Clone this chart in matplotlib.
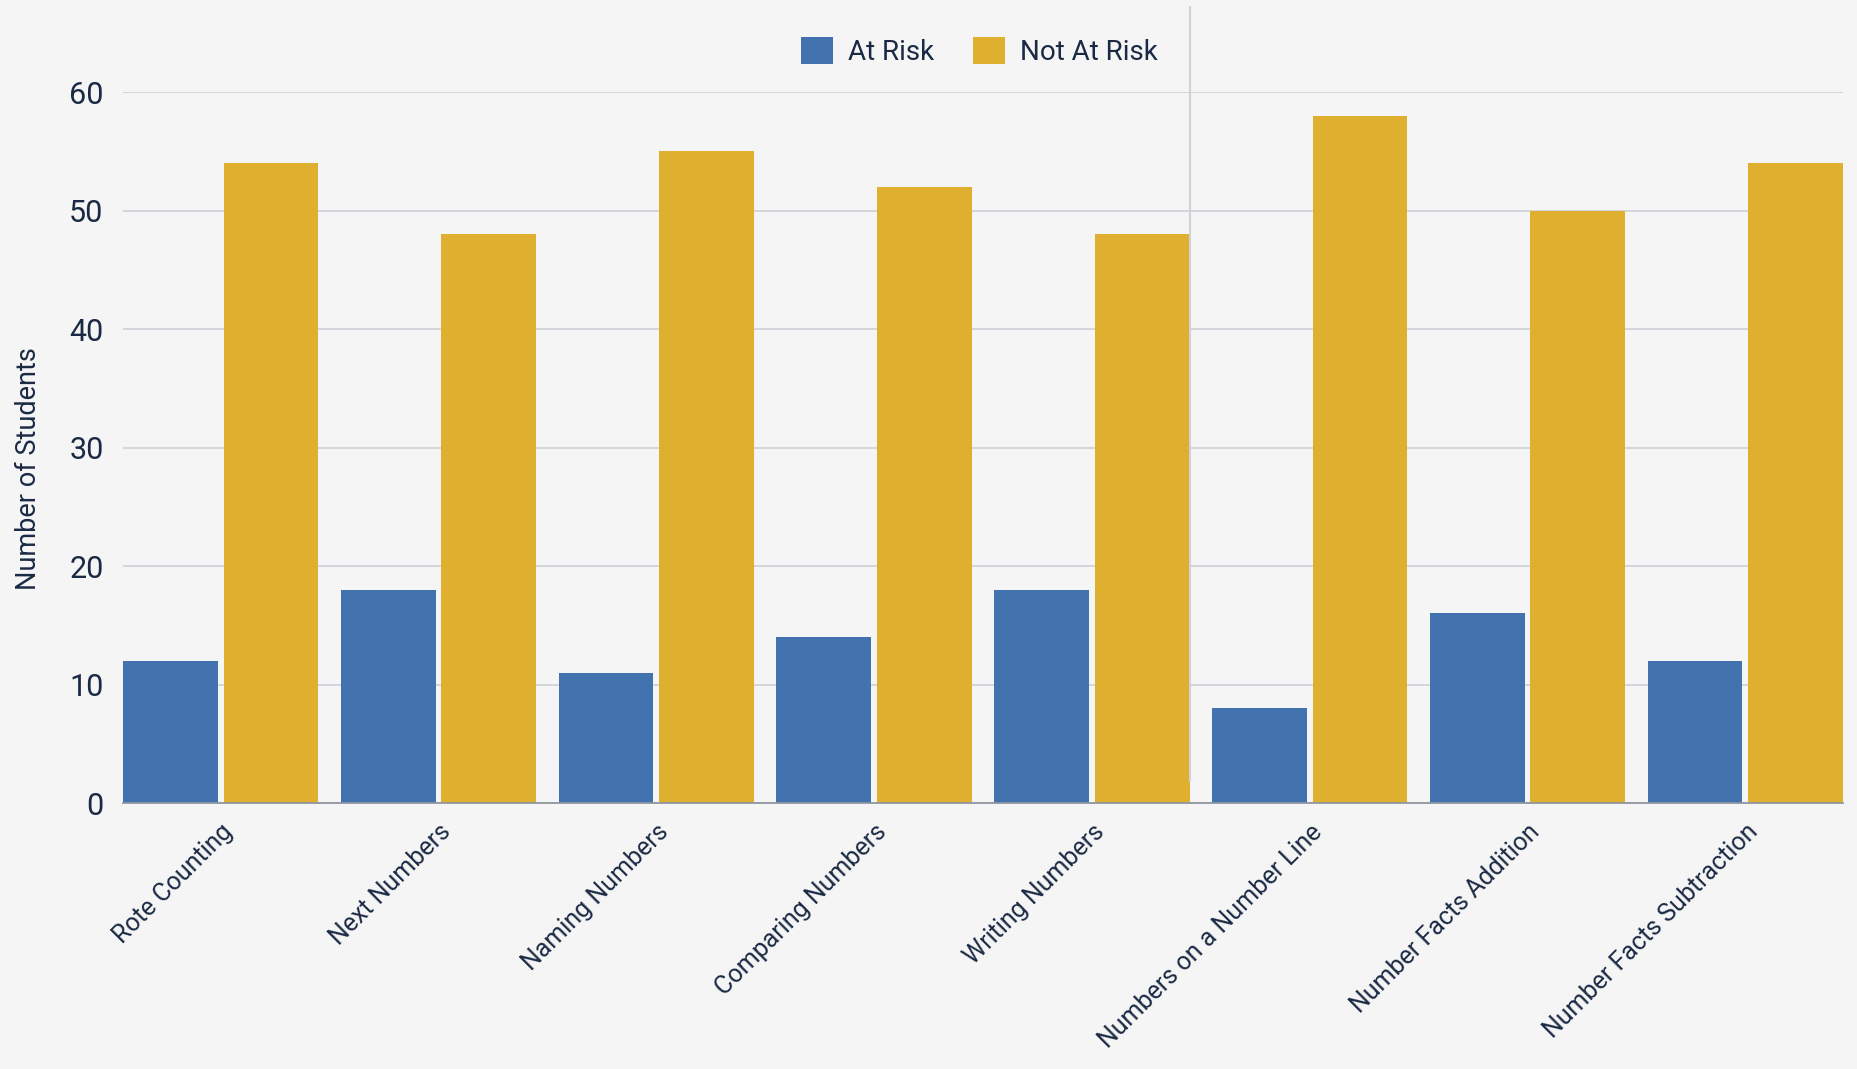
import numpy as np
import matplotlib.pyplot as plt
from matplotlib.lines import Line2D

# data
categories = ['Rote Counting', 'Next Numbers', 'Naming Numbers', 'Comparing Numbers',
              'Writing Numbers', 'Numbers on a Number Line', 'Number Facts Addition',
              'Number Facts Subtraction']
at_risk = [12, 18, 11, 14, 18, 8, 16, 12]
not_at_risk = [54, 48, 55, 52, 48, 58, 50, 54]
y_ticks = [0, 10, 20, 30, 40, 50, 60]

bg = '#f5f5f5'
blue = '#4273ae'
gold = '#dfb02f'
text_col = '#1b2a44'

plt.rcParams['font.family'] = ['Roboto', 'DejaVu Sans']

fig = plt.figure(figsize=(18.58, 10.69), dpi=100, facecolor=bg)
ax = fig.add_axes([0.0662, 0.2488, 0.9257, 0.6651], facecolor=bg)

x = np.arange(len(categories))
w = 0.435
gap = 0.027
off = (w + gap) / 2
ax.bar(x - off, at_risk, width=w, color=blue, label='At Risk', zorder=3)
ax.bar(x + off, not_at_risk, width=w, color=gold, label='Not At Risk', zorder=3)

ax.set_xlim(-off - w / 2, len(categories) - 1 + off + w / 2)
ax.set_ylim(0, 60)
ax.set_yticks(y_ticks)
ax.yaxis.grid(True, color='#d0d3d8', linewidth=1.3, zorder=0)
ax.set_axisbelow(True)

for s in ['top', 'right', 'left']:
    ax.spines[s].set_visible(False)
ax.spines['bottom'].set_color('#8f96a0')
ax.spines['bottom'].set_linewidth(1.3)
ax.spines['bottom'].set_zorder(4)

ax.set_xticks(x)
ax.set_xticklabels(categories, rotation=45, ha='right', rotation_mode='anchor',
                   fontsize=18, color=text_col)
ax.tick_params(axis='x', length=0, pad=12)
ax.tick_params(axis='y', length=0, pad=14, labelsize=22, labelcolor=text_col)
ax.set_ylabel('Number of Students', fontsize=19.5, color=text_col)
ax.yaxis.set_label_coords(-0.047, 0.47)

# thin vertical guide line at the edge of the Writing Numbers group
xv = 4 + off + w / 2
xf = fig.transFigure.inverted().transform(ax.transData.transform((xv, 0)))[0]
fig.add_artist(Line2D([xf, xf], [0.2488 + 0.021, 0.993], color='#cfd2d6',
                      linewidth=1.5, zorder=2))

ax.legend(loc='center', bbox_to_anchor=(0.527, 0.952), bbox_transform=fig.transFigure,
          ncol=2, frameon=False, fontsize=20, labelcolor=text_col,
          handlelength=1.15, handleheight=1.15, handletextpad=0.55, columnspacing=1.4)

fig.savefig('out.png', dpi=100, facecolor=bg)
